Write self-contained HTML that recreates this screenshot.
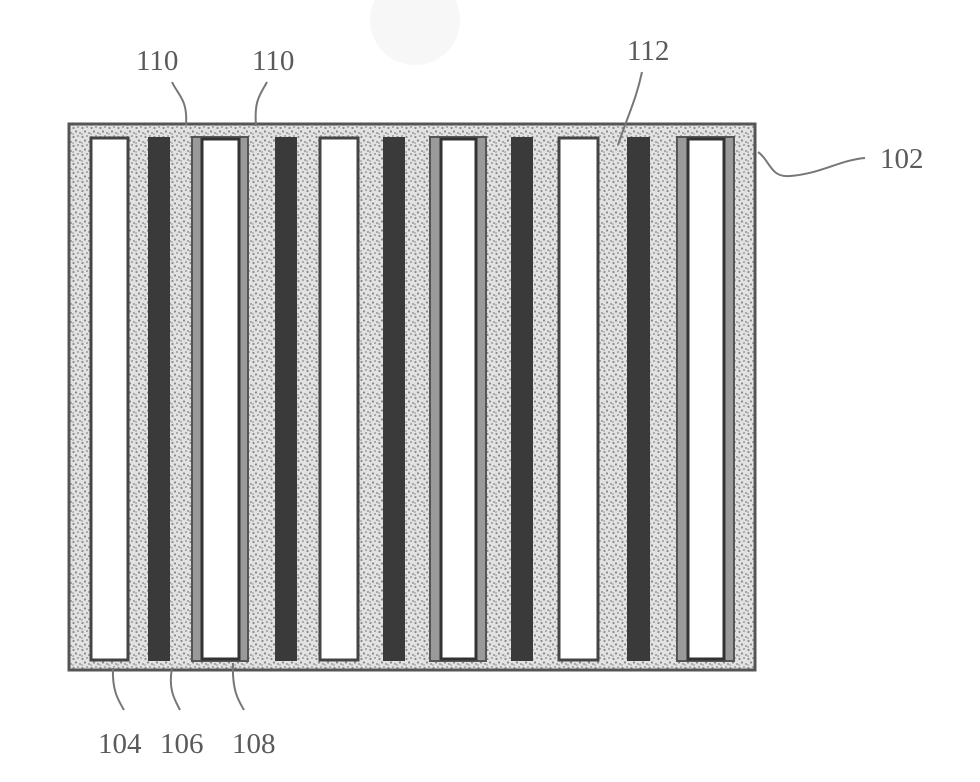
<!DOCTYPE html>
<html><head><meta charset="utf-8"><style>
html,body{margin:0;padding:0;background:#fff;}
svg{display:block}
text{font-family:"Liberation Serif",serif;font-size:29px;fill:#5a5a5a;}
</style></head><body>
<svg width="980" height="782" viewBox="0 0 980 782" xmlns="http://www.w3.org/2000/svg">
<defs>
<pattern id="st" width="9" height="9" patternUnits="userSpaceOnUse">
<rect width="9" height="9" fill="#e2e2e2"/>
<circle cx="1.5" cy="2" r="1.1" fill="#8a8a8a"/>
<circle cx="6" cy="1" r="1" fill="#9a9a9a"/>
<circle cx="4" cy="5.5" r="1.1" fill="#888"/>
<circle cx="8" cy="7" r="1" fill="#959595"/>
<circle cx="1" cy="8" r="0.9" fill="#a0a0a0"/>
</pattern>
</defs>
<circle cx="415" cy="20" r="45" fill="#f7f7f7"/>
<rect x="69" y="124" width="686" height="546" fill="url(#st)" stroke="#555" stroke-width="3"/>
<g stroke="#444" stroke-width="3">
<rect x="91" y="138" width="37" height="522" fill="#fff"/>
<rect x="320" y="138" width="38" height="522" fill="#fff"/>
<rect x="559" y="138" width="39" height="522" fill="#fff"/>
</g>
<g fill="#3a3a3a">
<rect x="148" y="137" width="22" height="524"/>
<rect x="275" y="137" width="22" height="524"/>
<rect x="383" y="137" width="22" height="524"/>
<rect x="511" y="137" width="22" height="524"/>
<rect x="627" y="137" width="23" height="524"/>
</g>
<g>
<rect x="192" y="137" width="56" height="524" fill="#9a9a9a" stroke="#555" stroke-width="2"/>
<rect x="202" y="139" width="37" height="520" fill="#fff" stroke="#333" stroke-width="3"/>
<rect x="430" y="137" width="56" height="524" fill="#9a9a9a" stroke="#555" stroke-width="2"/>
<rect x="441" y="139" width="35" height="520" fill="#fff" stroke="#333" stroke-width="3"/>
<rect x="677" y="137" width="57" height="524" fill="#9a9a9a" stroke="#555" stroke-width="2"/>
<rect x="688" y="139" width="36" height="520" fill="#fff" stroke="#333" stroke-width="3"/>
</g>
<g fill="none" stroke="#777" stroke-width="2">
<path d="M172 82 C178 95 188 100 186 125"/>
<path d="M267 82 C260 95 254 100 256 126"/>
<path d="M642 72 C636 100 628 115 618 145"/>
<path d="M758 152 C770 160 770 178 790 176 C820 174 840 160 865 158"/>
<path d="M113 668 C112 690 118 700 124 710"/>
<path d="M172 668 C168 690 175 700 180 710"/>
<path d="M233 663 C232 690 238 700 244 710"/>
</g>
<text x="136" y="70">110</text>
<text x="252" y="70">110</text>
<text x="627" y="60">112</text>
<text x="880" y="168">102</text>
<text x="98" y="753">104</text>
<text x="160" y="753">106</text>
<text x="232" y="753">108</text>
</svg>
</body></html>
